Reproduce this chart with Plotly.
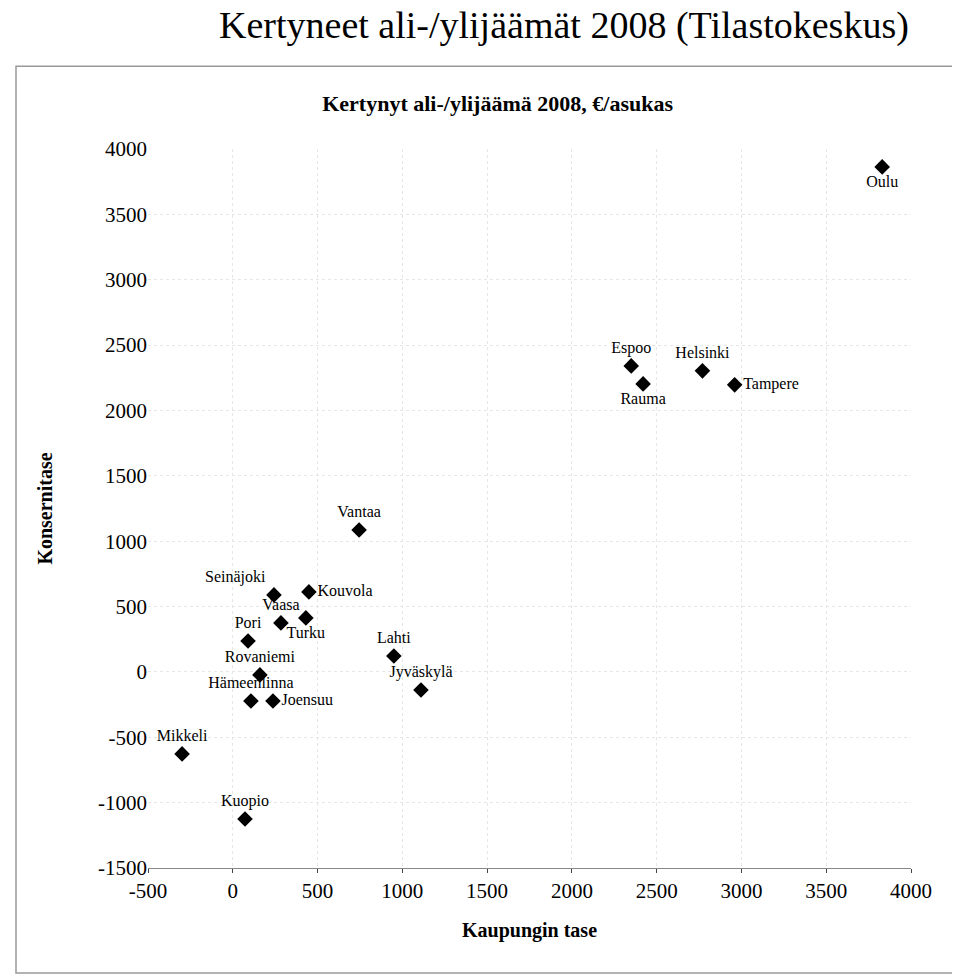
import plotly.graph_objects as go

cidades = ["Oulu", "Espoo", "Rauma", "Helsinki", "Tampere", "Vantaa", "Seinäjoki", "Kouvola",
           "Vaasa", "Pori", "Turku", "Lahti", "Rovaniemi", "Jyväskylä", "Hämeenlinna", "Joensuu",
           "Mikkeli", "Kuopio"]
kaupunki = [3830, 2350, 2420, 2770, 2960, 745, 243, 449, 284, 90, 431, 950, 160, 1110, 107, 237, -299, 72]
konserni = [3863, 2341, 2203, 2303, 2196, 1086, 589, 612, 375, 237, 413, 122, -23, -138, -222, -222, -627, -1125]
posicoes = ["bottom center", "top center", "bottom center", "top center", "middle right", "top center",
            "top left", "middle right", "top center", "top center", "bottom center", "top center",
            "top center", "top center", "top center", "middle right", "top center", "top center"]
x_ticks = list(range(-500, 4001, 500))
y_ticks = list(range(-1500, 4001, 500))

fonte = "Liberation Serif, Times New Roman, serif"

fig = go.Figure(go.Scatter(
    x=kaupunki, y=konserni, mode="markers+text",
    text=cidades, textposition=posicoes,
    textfont=dict(family=fonte, size=16, color="black"),
    marker=dict(symbol="diamond", size=12, color="black"),
))

fig.update_layout(
    width=960, height=975,
    margin=dict(l=140, r=57, t=141, b=115, autoexpand=False),
    paper_bgcolor="white", plot_bgcolor="white",
    font=dict(family=fonte, color="black"),
    showlegend=False,
    title=dict(text="<b>Kertynyt ali-/ylijäämä 2008, €/asukas</b>", x=0.51, xanchor="center",
               y=1 - 95 / 975, yanchor="middle", font=dict(size=22, family=fonte)),
    xaxis=dict(range=[-500, 4000], tickvals=x_ticks, ticktext=[str(v) for v in x_ticks],
               tickfont=dict(size=21), showgrid=True, automargin=False,
               gridcolor="#e6e6e6", griddash="dot", zeroline=False, showline=True,
               linecolor="#888", ticks="outside", ticklen=4,
               title=dict(text="<b>Kaupungin tase</b>", font=dict(size=20), standoff=20)),
    yaxis=dict(range=[-1500, 4000], tickvals=y_ticks, ticktext=[str(v) for v in y_ticks],
               tickfont=dict(size=21), showgrid=True, automargin=False,
               gridcolor="#e6e6e6", griddash="dot", zeroline=False, showline=False,
               ticks="", title=dict(text="<b>Konsernitase</b>", font=dict(size=20), standoff=40)),
)

fig.add_shape(type="rect", xref="paper", yref="paper", x0=-0.173, x1=1.058, y0=-0.146, y1=1.115,
              line=dict(color="#999", width=1.5))
fig.add_annotation(text="Kertyneet ali-/ylijäämät 2008 (Tilastokeskus)", xref="paper", yref="paper",
                   x=0.545, y=1.172, showarrow=False, yanchor="middle",
                   font=dict(size=38, family=fonte))

fig.write_html("out.html")
